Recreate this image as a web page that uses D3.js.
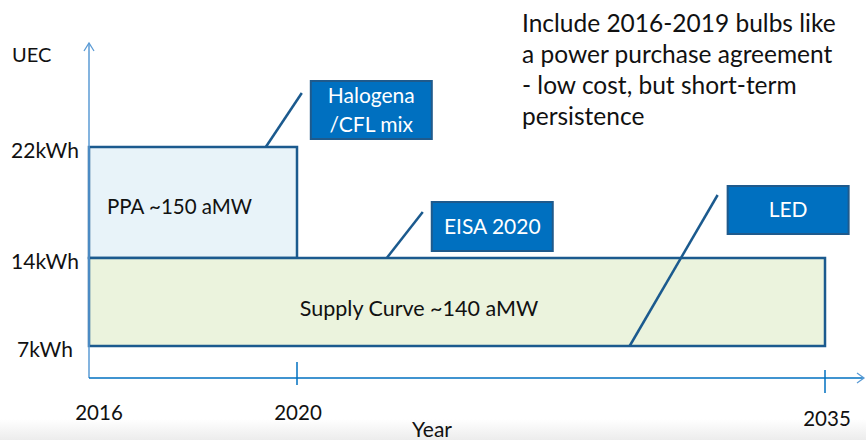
<!DOCTYPE html>
<html>
<head>
<meta charset="utf-8">
<script src="https://cdn.jsdelivr.net/npm/d3@7"></script>
<style>
  body { margin: 0; background: #fff; }
  svg text { font-family: Lato, "Open Sans", sans-serif; }
</style>
</head>
<body>
<svg width="866" height="440"></svg>
<script>
// years on the x axis and kWh levels on the y axis
const years = [2016, 2020, 2035];
const levels = [7, 14, 22];
const levelLabels = ["7kWh", "14kWh", "22kWh"];

// blocks: [start year, end year, low kWh, high kWh]
const blockNames = ["PPA ~150 aMW", "Supply Curve ~140 aMW"];
const blockStart = [2016, 2016];
const blockEnd = [2020, 2035];
const blockLow = [14, 7];
const blockHigh = [22, 14];

// callouts pointing at the blocks
const calloutText = [["Halogena", "/CFL mix"], ["EISA 2020"], ["LED"]];
const calloutYear = [2019.4, 2022.55, 2029.45];
const calloutLevel = [22, 14, 7];

const note = [
    "Include 2016-2019 bulbs like",
    "a power purchase agreement",
    "- low cost, but short-term",
    "persistence"
];

const svg = d3.select("svg");
const axisY = 378;

// piecewise scales, the drawing is not to scale
const x = d3.scaleLinear().domain(years).range([89, 297, 825]);
const y = d3.scaleLinear().domain([0].concat(levels)).range([axisY, 346, 258, 147]);

// grey band at the bottom
const defs = svg.append("defs");
const grad = defs.append("linearGradient").attr("id", "band").attr("x1", 0).attr("x2", 0).attr("y1", 0).attr("y2", 1);
grad.append("stop").attr("offset", "0%").attr("stop-color", "#ffffff");
grad.append("stop").attr("offset", "100%").attr("stop-color", "#ececec");
svg.append("rect").attr("x", 0).attr("y", 419).attr("width", 866).attr("height", 21).attr("fill", "url(#band)");

// blocks
const fills = ["#e8f3f9", "#ebf3dd"];
svg.selectAll("rect.block")
    .data(blockNames)
    .enter()
    .append("rect")
    .attr("class", "block")
    .attr("x", (d, i) => x(blockStart[i]))
    .attr("y", (d, i) => y(blockHigh[i]))
    .attr("width", (d, i) => x(blockEnd[i]) - x(blockStart[i]))
    .attr("height", (d, i) => y(blockLow[i]) - y(blockHigh[i]))
    .attr("fill", (d, i) => fills[i])
    .attr("stroke", "#1b5a8e")
    .attr("stroke-width", 2.5);

svg.append("text")
    .attr("x", x(2016) + 18)
    .attr("y", (y(22) + y(14)) / 2 + 11)
    .attr("font-size", 20.5)
    .attr("fill", "#111")
    .text(blockNames[0]);

svg.append("text")
    .attr("x", 419)
    .attr("y", (y(14) + y(7)) / 2 + 14)
    .attr("text-anchor", "middle")
    .attr("font-size", 21.5)
    .attr("fill", "#111")
    .text(blockNames[1]);

// y axis with arrow
svg.append("line")
    .attr("x1", x(2016)).attr("x2", x(2016))
    .attr("y1", axisY).attr("y2", 43)
    .attr("stroke", "#5b9bd5").attr("stroke-width", 1.5);
svg.append("path")
    .attr("d", `M${x(2016) - 5},${51} L${x(2016)},${43} L${x(2016) + 5},${51}`)
    .attr("fill", "none").attr("stroke", "#5b9bd5").attr("stroke-width", 1.3);

// x axis with arrow
svg.append("line")
    .attr("x1", x(2016)).attr("x2", 864)
    .attr("y1", axisY).attr("y2", axisY)
    .attr("stroke", "#0070c0").attr("stroke-width", 1.5);
svg.append("path")
    .attr("d", `M857,${axisY - 5} L864,${axisY} L857,${axisY + 5}`)
    .attr("fill", "none").attr("stroke", "#5b9bd5").attr("stroke-width", 1.3);

// ticks on the x axis
svg.append("line")
    .attr("x1", x(2020)).attr("x2", x(2020))
    .attr("y1", axisY - 16).attr("y2", axisY + 7)
    .attr("stroke", "#0070c0").attr("stroke-width", 1.5);
svg.append("line")
    .attr("x1", x(2035)).attr("x2", x(2035))
    .attr("y1", axisY - 8).attr("y2", axisY + 15)
    .attr("stroke", "#0070c0").attr("stroke-width", 1.5);

// year labels
const yearDx = [10, 1, 2];
const yearDy = [42, 42, 48];
svg.selectAll("text.year")
    .data(years)
    .enter()
    .append("text")
    .attr("class", "year")
    .attr("x", (d, i) => x(d) + yearDx[i])
    .attr("y", (d, i) => axisY + yearDy[i])
    .attr("text-anchor", "middle")
    .attr("font-size", 20.5)
    .attr("fill", "#111")
    .text(d => d);

svg.append("text")
    .attr("x", 432).attr("y", 437)
    .attr("text-anchor", "middle")
    .attr("font-size", 21)
    .attr("fill", "#111")
    .text("Year");

// level labels
svg.selectAll("text.level")
    .data(levels)
    .enter()
    .append("text")
    .attr("class", "level")
    .attr("x", 45)
    .attr("y", d => y(d) + 11)
    .attr("text-anchor", "middle")
    .attr("font-size", 21)
    .attr("fill", "#111")
    .text((d, i) => levelLabels[i]);

svg.append("text")
    .attr("x", 12).attr("y", 62)
    .attr("font-size", 20)
    .attr("fill", "#111")
    .text("UEC");

// callouts: leader line from the anchor, then a filled box
const leadDx = [36, 36, 88];
const leadDy = [-54, -46, -151];
const boxDx = [45, 45, 98];
const boxDy = [-66, -56, -160];
const boxW = 121;
const boxH = [58, 49, 48];

calloutText.forEach((lines, i) => {
    const ax = x(calloutYear[i]);
    const ay = y(calloutLevel[i]);
    svg.append("line")
        .attr("x1", ax).attr("y1", ay)
        .attr("x2", ax + leadDx[i]).attr("y2", ay + leadDy[i])
        .attr("stroke", "#1b5a8e").attr("stroke-width", 2.5);
    const bx = ax + boxDx[i];
    const by = ay + boxDy[i];
    svg.append("rect")
        .attr("x", bx).attr("y", by)
        .attr("width", boxW).attr("height", boxH[i])
        .attr("fill", "#0070c0")
        .attr("stroke", "#1f5a8c").attr("stroke-width", 2);
    const lineGap = 29;
    const top = by + boxH[i] / 2 - (lines.length - 1) * lineGap / 2 + 7;
    lines.forEach((t, j) => {
        svg.append("text")
            .attr("x", bx + boxW / 2)
            .attr("y", top + j * lineGap)
            .attr("text-anchor", "middle")
            .attr("font-size", 21)
            .attr("fill", "#fff")
            .text(t);
    });
});

// note in the top right
svg.selectAll("text.note")
    .data(note)
    .enter()
    .append("text")
    .attr("class", "note")
    .attr("x", 522)
    .attr("y", (d, i) => 32 + i * 31)
    .attr("font-size", 24.5)
    .attr("fill", "#111")
    .text(d => d);
</script>
</body>
</html>
